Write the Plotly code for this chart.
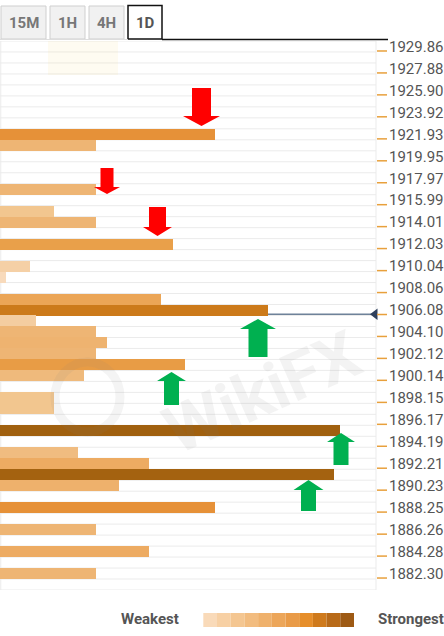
import plotly.graph_objects as go

# ---------------- data ----------------
tab_labels = ["15M", "1H", "4H", "1D"]
active_tab = "1D"

tick_labels = ["1929.86", "1927.88", "1925.90", "1923.92", "1921.93", "1919.95",
               "1917.97", "1915.99", "1914.01", "1912.03", "1910.04", "1908.06",
               "1906.08", "1904.10", "1902.12", "1900.14", "1898.15", "1896.17",
               "1894.19", "1892.21", "1890.23", "1888.25", "1886.26", "1884.28",
               "1882.30"]

levels = [1921.93, 1920.94, 1916.98, 1915.00, 1914.01, 1912.03, 1910.04, 1909.05,
          1907.07, 1906.08, 1905.09, 1904.10, 1903.11, 1902.12, 1901.13, 1900.14,
          1898.15, 1897.16, 1895.18, 1893.20, 1892.21, 1891.22, 1890.23, 1888.25,
          1886.26, 1884.28, 1882.30]
strengths = [215, 96, 96, 54, 96, 173, 30, 6,
             161, 268, 36, 96, 107, 96, 185, 84,
             54, 54, 340, 78, 149, 334, 119, 215,
             96, 149, 96]

current_price = 1905.69

arrow_tips = [1922.69, 1916.55, 1912.76, 1905.27, 1900.49, 1894.98, 1890.74]
arrow_x = [201.5, 107, 157.5, 258, 171.5, 341, 308.5]
arrow_dirs = ["down", "down", "down", "up", "up", "up", "up"]
# (total length px, shaft half width px, head half width px, head length px)
arrow_dims = [(38, 9.5, 18.5, 10), (26, 6.5, 13, 7), (29, 8.5, 14.5, 9),
              (38, 9.5, 18, 10), (33, 7.5, 14.5, 9), (32, 7.5, 14, 9), (31, 7.5, 15, 10)]

legend_colors = ["#F9DAB9", "#F7D0A4", "#F4C691", "#F2BC7F", "#EFB16C", "#ECA65A",
                 "#E99B48", "#E68E2A", "#CF7A1C", "#B86A18", "#9E5A14"]

bar_colorscale = [[0.0, "#F9DCC0"], [0.088, "#F5D0A6"], [0.159, "#F2C68F"],
                  [0.282, "#EEB574"], [0.438, "#EDAB62"], [0.509, "#E9A04A"],
                  [0.632, "#E69138"], [0.788, "#CC7A1A"], [1.0, "#A0600F"]]

# ---------------- geometry ----------------
W, H = 444, 636
ML, MR, MT, MB = 0, 68, 41, 46
PW = W - ML - MR
PH = H - MT - MB

tick_vals = [float(t) for t in tick_labels]
step = (tick_vals[0] - tick_vals[-1]) / (2 * (len(tick_vals) - 1))
ymax = tick_vals[0] + step / 2
ymin = tick_vals[-1] - 1.5 * step
nrows = int(round((ymax - ymin) / step))
xmax = PW
upx = (ymax - ymin) / PH  # price per pixel


def px_x(x):
    return (x - ML) / PW


def px_y(y):
    return (H - MB - y) / PH


fig = go.Figure()

fig.add_trace(go.Bar(
    x=strengths, y=levels, orientation="h", width=step,
    marker=dict(color=strengths, colorscale=bar_colorscale, cmin=0, cmax=340,
                line=dict(width=0)),
    showlegend=False, hoverinfo="skip"))

fig.add_trace(go.Scatter(
    x=[xmax - 1], y=[current_price], mode="markers",
    marker=dict(symbol="triangle-left", size=10, color="#2E3F5C"),
    cliponaxis=False, showlegend=False, hoverinfo="skip"))

shapes = []
# grid lines
for k in range(nrows + 1):
    yv = ymax - k * step
    shapes.append(dict(type="line", xref="paper", yref="y", x0=0, x1=1, y0=yv, y1=yv,
                       line=dict(color="#EBEBEB", width=1), layer="below"))
for xv in [0.002, 1]:
    shapes.append(dict(type="line", xref="paper", yref="paper", x0=xv, x1=xv, y0=0, y1=1,
                       line=dict(color="#EBEBEB", width=1), layer="below"))
# current price line
shapes.append(dict(type="line", xref="x", yref="y", x0=0, x1=xmax - 4,
                   y0=current_price, y1=current_price,
                   line=dict(color="#6E8299", width=1.5), layer="below"))
# orange tick marks on the right
for tv in tick_vals:
    yv = tv - 4.5 * upx
    shapes.append(dict(type="line", xref="paper", yref="y", x0=1 + 1 / PW, x1=1 + 11 / PW,
                       y0=yv, y1=yv, line=dict(color="#E8A03C", width=1.5)))

# arrows
for tip, cx, d, (L, sw, hw, hl) in zip(arrow_tips, arrow_x, arrow_dirs, arrow_dims):
    sgn = 1 if d == "down" else -1
    color = "#FF0000" if d == "down" else "#00B050"

    def Y(p):
        return tip + sgn * p * upx

    pts = [(cx - sw, Y(L)), (cx - sw, Y(hl)), (cx - hw, Y(hl)), (cx, Y(0)),
           (cx + hw, Y(hl)), (cx + sw, Y(hl)), (cx + sw, Y(L))]
    path = "M " + " L ".join(f"{px},{py}" for px, py in pts) + " Z"
    shapes.append(dict(type="path", xref="x", yref="y", path=path,
                       fillcolor=color, line=dict(width=0)))

# tabs
tab_x = [(1, 46), (50, 85), (89, 124), (128, 162)]
annotations = []
for lab, (x0, x1) in zip(tab_labels, tab_x):
    active = lab == active_tab
    shapes.append(dict(type="rect", xref="paper", yref="paper",
                       x0=px_x(x0), x1=px_x(x1), y0=px_y(39), y1=px_y(5.5 if active else 6),
                       fillcolor="#FFFFFF" if active else "#F1F1F1",
                       line=dict(color="#111111" if active else "#CFCFCF",
                                 width=1.5 if active else 1)))
    annotations.append(dict(text=f"<b>{lab}</b>", xref="paper", yref="paper",
                            x=px_x((x0 + x1) / 2), y=px_y(22.5), showarrow=False,
                            xanchor="center", yanchor="middle",
                            font=dict(family="Roboto", size=15,
                                      color="#555555" if active else "#777777")))
shapes.append(dict(type="line", xref="paper", yref="paper", x0=px_x(0), x1=px_x(128),
                   y0=px_y(39.5), y1=px_y(39.5), line=dict(color="#DDDDDD", width=1)))
shapes.append(dict(type="line", xref="paper", yref="paper", x0=px_x(162), x1=px_x(388),
                   y0=px_y(39.5), y1=px_y(39.5), line=dict(color="#111111", width=1.5)))

# legend gradient
lx0, lx1 = 203.3, 354
cw = (lx1 - lx0) / len(legend_colors)
for i, c in enumerate(legend_colors):
    shapes.append(dict(type="rect", xref="paper", yref="paper",
                       x0=px_x(lx0 + i * cw), x1=px_x(lx0 + (i + 1) * cw),
                       y0=px_y(627), y1=px_y(613), fillcolor=c, line=dict(width=0)))
annotations.append(dict(text="<b>Weakest</b>", xref="paper", yref="paper",
                        x=px_x(181), y=px_y(619), xanchor="right", yanchor="middle",
                        showarrow=False, font=dict(family="Roboto", size=15, color="#555555")))
annotations.append(dict(text="<b>Strongest</b>", xref="paper", yref="paper",
                        x=px_x(376), y=px_y(619), xanchor="left", yanchor="middle",
                        showarrow=False, font=dict(family="Roboto", size=15, color="#555555")))

# watermark
annotations.append(dict(text="<b>WikiFX</b>", xref="paper", yref="paper",
                        x=px_x(262), y=px_y(392), xanchor="center", yanchor="middle",
                        showarrow=False, textangle=-24,
                        font=dict(family="Roboto", size=66, color="rgba(120,120,120,0.09)")))
shapes.append(dict(type="circle", xref="paper", yref="paper",
                   x0=px_x(55), x1=px_x(120), y0=px_y(432), y1=px_y(362),
                   line=dict(color="rgba(130,130,130,0.09)", width=9)))
shapes.append(dict(type="rect", xref="paper", yref="paper",
                   x0=px_x(48), x1=px_x(118), y0=px_y(75), y1=px_y(41),
                   fillcolor="rgba(245,215,120,0.10)", line=dict(width=0)))

fig.update_layout(
    width=W, height=H,
    margin=dict(l=ML, r=MR, t=MT, b=MB),
    paper_bgcolor="white", plot_bgcolor="white",
    showlegend=False, bargap=0,
    shapes=shapes, annotations=annotations,
    xaxis=dict(range=[0, xmax], visible=False, fixedrange=True),
    yaxis=dict(range=[ymin, ymax], side="right", tickmode="array",
               tickvals=tick_vals, ticktext=tick_labels, showgrid=False, zeroline=False,
               ticks="outside", ticklen=9, tickcolor="rgba(0,0,0,0)",
               tickfont=dict(family="Roboto", size=15, color="#555555"),
               showline=False, fixedrange=True, automargin=False),
)

fig.write_html("out.html", config={"displayModeBar": False},
               post_script="document.body.style.margin='0';document.body.style.overflow='hidden';")
